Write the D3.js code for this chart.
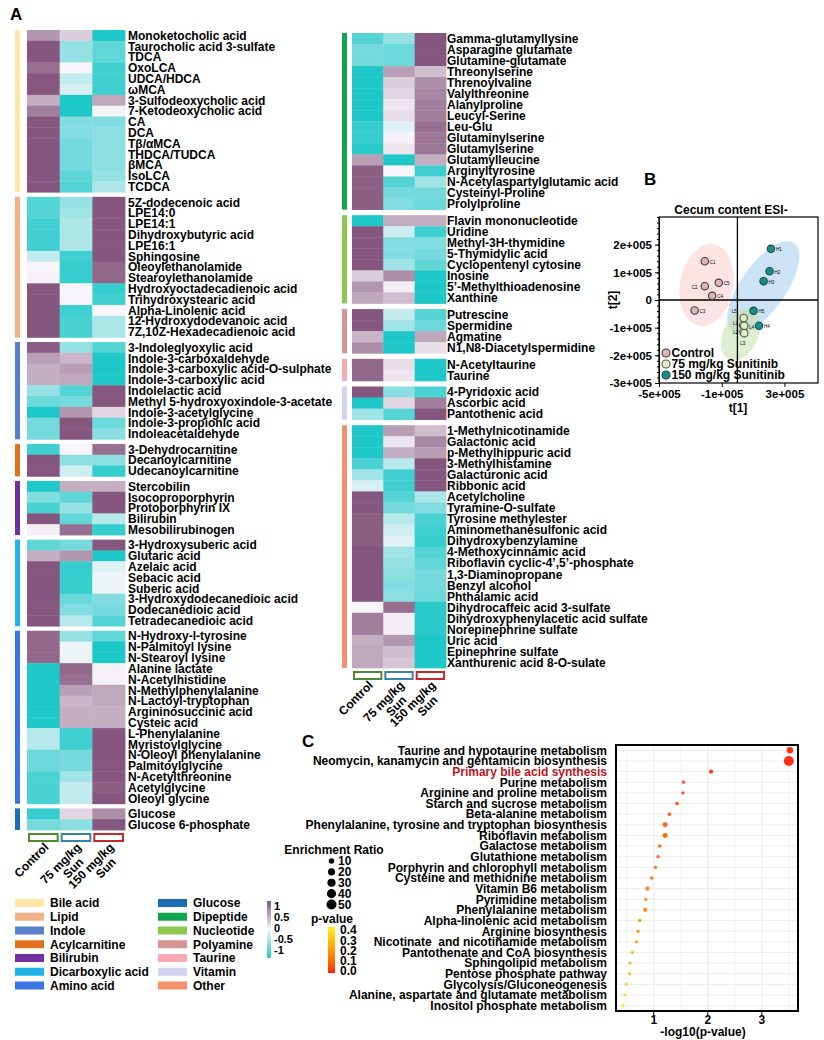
<!DOCTYPE html>
<html><head><meta charset="utf-8">
<script src="https://cdn.jsdelivr.net/npm/d3@7"></script>
<style>
body{margin:0;background:#fff}
text{font-family:"Liberation Sans",Arial,Helvetica,sans-serif;font-weight:bold;fill:#000}
</style>
</head><body><svg id="c" width="824" height="1040" xmlns="http://www.w3.org/2000/svg"></svg>
<script>
// ---------------- DATA ----------------
const groups = ["Control","75 mg/kg Sun","150 mg/kg Sun"];
const groupLabels = [["Control"],["75 mg/kg","Sun"],["150 mg/kg","Sun"]];
const groupColors = ["#4f8a30","#3a82aa","#c42a2a"];

const classNames = ["Bile acid","Lipid","Indole","Acylcarnitine","Bilirubin","Dicarboxylic acid","Amino acid","Glucose","Dipeptide","Nucleotide","Polyamine","Taurine","Vitamin","Other"];
const classColors = ["#fde7a6","#f3b186","#5a7fca","#e2711d","#7030a0","#22b4e6","#3b74e6","#1b6db4","#10a54c","#8dc94f","#d49494","#f8a9b1","#d3d4f0","#f2916b"];

// [name, Control, 75 mg/kg, 150 mg/kg] (row z-score, -1..1)
const bileAcid = [
["Monoketocholic acid",0.6,0.25,-1],
["Taurocholic acid 3-sulfate",1,-0.45,-0.7],
["TDCA",1,-0.45,-0.7],
["OxoLCA",0.85,0,-0.85],
["UDCA/HDCA",1,-0.25,-0.85],
["ωMCA",1,-0.15,-0.85],
["3-Sulfodeoxycholic acid",0.45,-1,0.5],
["7-Ketodeoxycholic acid",0.75,-1,0.02],
["CA",1,-0.55,-0.55],
["DCA",1,-0.55,-0.5],
["Tβ/αMCA",1,-0.6,-0.5],
["THDCA/TUDCA",1,-0.6,-0.5],
["βMCA",1,-0.6,-0.5],
["IsoLCA",1,-0.7,-0.45],
["TCDCA",1,-0.75,-0.35]];
const lipid = [
["5Z-dodecenoic acid",-0.75,-0.45,1],
["LPE14:0",-0.75,-0.4,1],
["LPE14:1",-0.85,-0.35,1],
["Dihydroxybutyric acid",-0.85,-0.35,1],
["LPE16:1",-0.85,-0.35,1],
["Sphingosine",-0.25,-0.85,1],
["Oleoylethanolamide",0,-0.9,0.9],
["Stearoylethanolamide",0.03,-0.9,0.9],
["Hydroxyoctadecadienoic acid",1,0,-0.9],
["Trihydroxystearic acid",1,0,-0.85],
["Alpha-Linolenic acid",1,-0.85,0],
["12-Hydroxydodevanoic acid",1,-0.8,-0.35],
["7Z,10Z-Hexadecadienoic acid",1,-0.8,-0.35]];
const indole = [
["3-Indoleglyoxylic acid",0.95,-0.45,-0.75],
["Indole-3-carboxaldehyde",0.55,0.4,-1],
["Indole-3-carboxylic acid-O-sulphate",0.45,0.55,-1],
["Indole-3-carboxylic acid",0.45,0.5,-1],
["Indolelactic acid",-0.45,-0.75,1],
["Methyl 5-hydroxyoxindole-3-acetate",-0.65,-0.6,1],
["Indole-3-acetylglycine",-1,0.6,0.2],
["Indole-3-propionic acid",-0.6,1,-0.65],
["Indoleacetaldehyde",-0.6,1,-0.5]];
const acylcarnitine = [
["3-Dehydrocarnitine",-0.85,0,0.85],
["Decanoylcarnitine",1,-0.5,-0.5],
["Udecanoylcarnitine",1,-0.2,-0.9]];
const bilirubin = [
["Stercobilin",-1,0.45,0.45],
["Isocoproporphyrin",-0.55,-0.7,1],
["Protoporphyrin IX",-0.8,-0.45,1],
["Bilirubin",1,-0.7,-0.3],
["Mesobilirubinogen",0.05,0.85,-0.9]];
const dicarboxylic = [
["3-Hydroxysuberic acid",-0.7,-0.6,1],
["Glutaric acid",0.45,0.6,-1],
["Azelaic acid",1,-0.9,-0.12],
["Sebacic acid",1,-0.9,-0.05],
["Suberic acid",1,-0.9,-0.05],
["3-Hydroxydodecanedioic acid",1,-0.65,-0.55],
["Dodecanedioic acid",1,-0.55,-0.6],
["Tetradecanedioic acid",1,-0.3,-0.75]];
const aminoAcid = [
["N-Hydroxy-l-tyrosine",0.9,-0.45,-0.7],
["N-Palmitoyl lysine",0.9,-0.05,-1],
["N-Stearoyl lysine",0.9,-0.05,-1],
["Alanine lactate",-1,0.9,0.03],
["N-Acetylhistidine",-1,0.85,0.03],
["N-Methylphenylalanine",-1,0.55,0.5],
["N-Lactoyl-tryptophan",-1,0.4,0.5],
["Argininosuccinic acid",-1,0.45,0.45],
["Cysteic acid",-1,0.45,0.45],
["L-Phenylalanine",-0.3,-0.85,1],
["Myristoylglycine",-0.3,-0.85,1],
["N-Oleoyl phenylalanine",-0.65,-0.6,1],
["Palmitoylglycine",-0.65,-0.6,1],
["N-Acetylthreonine",-0.8,-0.4,1],
["Acetylglycine",-0.8,-0.25,0.95],
["Oleoyl glycine",-0.8,-0.25,1]];
const glucose = [
["Glucose",-0.9,0.2,0.65],
["Glucose 6-phosphate",-0.6,-0.5,1]];
const dipeptide = [
["Gamma-glutamyllysine",-0.75,-0.45,1],
["Asparagine glutamate",-0.6,-0.65,1],
["Glutamine-glutamate",-0.6,-0.65,1],
["Threonylserine",-1,0.55,0.35],
["Threnoylvaline",-1,0.25,0.65],
["Valylthreonine",-1,0.2,0.7],
["Alanylproline",-1,0.1,0.75],
["Leucyl-Serine",-1,0.15,0.75],
["Leu-Glu",-0.9,-0.1,0.85],
["Glutaminylserine",-0.9,0.03,0.8],
["Glutamylserine",-0.95,0.1,0.8],
["Glutamylleucine",0.55,-1,0.45],
["Arginyltyrosine",0.95,0,-0.85],
["N-Acetylaspartylglutamic acid",0.95,-0.75,-0.4],
["Cysteinyl-Proline",0.95,-0.6,-0.6],
["Prolylproline",0.95,-0.55,-0.65]];
const nucleotide = [
["Flavin mononucleotide",-1,0.45,0.45],
["Uridine",1,-0.2,-0.85],
["Methyl-3H-thymidine",1,-0.55,-0.55],
["5-Thymidylic acid",1,-0.55,-0.6],
["Cyclopentenyl cytosine",1,-0.4,-0.7],
["Inosine",0.25,0.65,-1],
["5’-Methylthioadenosine",0.6,0.05,-1],
["Xanthine",0.5,0.35,-1]];
const polyamine = [
["Putrescine",1,-0.25,-0.75],
["Spermidine",1,-0.4,-0.65],
["Agmatine",0.4,-1,0.5],
["N1,N8-Diacetylspermidine",0.65,-1,0.15]];
const taurine = [
["N-Acetyltaurine",0.9,0.15,-1],
["Taurine",0.9,0.1,-1]];
const vitamin = [
["4-Pyridoxic acid",1,-0.5,-0.8],
["Ascorbic acid",-1,0.2,0.75],
["Pantothenic acid",-0.4,-0.75,1]];
const other = [
["1-Methylnicotinamide",-1,0.55,0.35],
["Galactonic acid",-1,0.1,0.7],
["p-Methylhippuric acid",-1,0.45,0.55],
["3-Methylhistamine",-0.8,-0.3,1],
["Galacturonic acid",-0.4,-0.85,1],
["Ribbonic acid",-0.15,-0.85,1],
["Acetylcholine",1,-0.75,-0.35],
["Tyramine-O-sulfate",1,-0.6,-0.55],
["Tyrosine methylester",0.95,-0.3,-0.8],
["Aminomethanesulfonic acid",0.95,-0.2,-0.85],
["Dihydroxybenzylamine",0.95,-0.1,-0.9],
["4-Methoxycinnamic acid",1,-0.4,-0.75],
["Riboflavin cyclic-4’,5’-phosphate",1,-0.45,-0.7],
["1,3-Diaminopropane",1,-0.5,-0.6],
["Benzyl alcohol",1,-0.55,-0.6],
["Phthalamic acid",1,-0.5,-0.65],
["Dihydrocaffeic acid 3-sulfate",0,0.85,-0.95],
["Dihydroxyphenylacetic acid sulfate",0.75,0.05,-0.95],
["Norepinephrine sulfate",0.75,0.05,-0.95],
["Uric acid",0.45,0.6,-1],
["Epinephrine sulfate",0.5,0.35,-1],
["Xanthurenic acid 8-O-sulate",0.5,0.3,-1]];

const leftPanel = [["Bile acid",bileAcid],["Lipid",lipid],["Indole",indole],["Acylcarnitine",acylcarnitine],["Bilirubin",bilirubin],["Dicarboxylic acid",dicarboxylic],["Amino acid",aminoAcid],["Glucose",glucose]];
const rightPanel = [["Dipeptide",dipeptide],["Nucleotide",nucleotide],["Polyamine",polyamine],["Taurine",taurine],["Vitamin",vitamin],["Other",other]];

const heatTicks = [1,0.5,0,-0.5,-1];

// PCA scores
const pcaNames = ["C1","C2","C3","C4","C5","L1","L2","L3","L4","L5","H1","H2","H3","H4","H5"];
const pcaGroup = ["Control","Control","Control","Control","Control","75","75","75","75","75","150","150","150","150","150"];
const pcaT1 = [-2.08e5,-2.08e5,-2.73e5,-1.61e5,-1.19e5, 0.36e5,0.38e5,0.44e5,0.44e5,0.40e5, 2.14e5,2.05e5,1.67e5,1.38e5,1.03e5];
const pcaT2 = [1.40e5,0.50e5,-0.38e5,0.15e5,0.62e5, -0.90e5,-1.15e5,-1.20e5,-0.93e5,-0.65e5, 1.85e5,1.04e5,0.68e5,-0.93e5,-0.39e5];
const pcaLegend = ["Control","75 mg/kg Sunitinib","150 mg/kg Sunitinib"];
const pcaXTicks = [-5e5,-1e5,3e5];
const pcaYTicks = [-3e5,-2e5,-1e5,0,1e5,2e5];
// confidence ellipses: [group, centre t1, centre t2, semi-axis t1, semi-axis t2, tilt deg]
const pcaEllipses = [["Control",-1.97e5,0.54e5,1.7e5,1.5e5,10],["150",1.65e5,0.46e5,1.45e5,1.95e5,35],["75",0.2e5,-1.25e5,1.1e5,1.0e5,25]];

// Pathway enrichment
const pathways = ["Taurine and hypotaurine metabolism","Neomycin, kanamycin and gentamicin biosynthesis","Primary bile acid synthesis","Purine metabolism","Arginine and proline metabolism","Starch and sucrose metabolism","Beta-alanine metabolism","Phenylalanine, tyrosine and tryptophan biosynthesis","Riboflavin metabolism","Galactose metabolism","Glutathione metabolism","Porphyrin and chlorophyll metabolism","Cysteine and methionine metabolism","Vitamin B6 metabolism","Pyrimidine metabolism","Phenylalanine metabolism","Alpha-linolenic acid metabolism","Arginine biosynthesis","Nicotinate  and nicotinamide metabolism","Pantothenate and CoA biosynthesis","Sphingolipid metabolism","Pentose phosphate pathway","Glycolysis/Gluconeogenesis","Alanine, aspartate and glutamate metabolism","Inositol phosphate metabolism"];
const negLogP = [3.52,3.50,2.06,1.55,1.54,1.43,1.29,1.21,1.21,1.11,1.08,1.03,0.96,0.88,0.85,0.84,0.74,0.71,0.68,0.60,0.56,0.55,0.49,0.46,0.43];
const enrichment = [16,50,4,1.2,1.2,2,1.8,7,7,1.8,1.8,1.5,1.5,3.5,1.2,3.5,1.5,1.5,1.5,1.2,1.2,1.2,1,1,1];
const erLegend = [10,20,30,40,50];
const pTicks = [0.4,0.3,0.2,0.1,0.0];
const pathXTicks = [1,2,3];

// ---------------- DRAW ----------------
const svg = d3.select("#c");
const heatColor = d3.scaleLinear().domain([-1,0,1]).range(["#1fc8c8","#f8f6fa","#85577e"]);
const classColor = d3.scaleOrdinal().domain(classNames).range(classColors);

svg.append("text").attr("x",10).attr("y",20).attr("font-size",17).text("A");
svg.append("text").attr("x",644).attr("y",185).attr("font-size",17).text("B");
svg.append("text").attr("x",302).attr("y",747).attr("font-size",17).text("C");

function drawHeat(panel, xr, yr, gap, barX, labelX) {
  const g = svg.append("g");
  const nRows = d3.sum(panel, p => p[1].length);
  const rowH = (yr[1]-yr[0]-gap*(panel.length-1))/nRows;
  const x = d3.scaleBand().domain(groups).range(xr);
  let y0 = yr[0];
  panel.forEach(([cls, rows]) => {
    const h = rows.length*rowH;
    const y = d3.scaleBand().domain(rows.map(r=>r[0])).range([y0, y0+h]);
    g.append("rect").attr("x",barX).attr("y",y0).attr("width",5).attr("height",h).attr("fill",classColor(cls));
    rows.forEach(r => {
      groups.forEach((grp,j) => {
        g.append("rect").attr("x",x(grp)).attr("y",y(r[0]))
          .attr("width",x.bandwidth()+0.4).attr("height",y.bandwidth()+0.4)
          .attr("fill",heatColor(r[j+1]));
      });
      g.append("text").attr("x",labelX).attr("y",y(r[0])+y.bandwidth()/2).attr("dy","0.36em")
        .attr("font-size",12).text(r[0]);
    });
    y0 += h + gap;
  });
  const by = yr[1]+4;
  groups.forEach((grp,j) => {
    g.append("rect").attr("x",x(grp)+2).attr("y",by).attr("width",x.bandwidth()-4).attr("height",7)
      .attr("fill","#fff").attr("stroke",groupColors[j]).attr("stroke-width",2);
    const cx = x(grp)+x.bandwidth()/2;
    const t = g.append("text").attr("transform",`translate(${cx+6},${by+14}) rotate(-45)`)
      .attr("text-anchor","end").attr("font-size",12);
    groupLabels[j].forEach((line,k) => t.append("tspan").attr("x",k? -9:0).attr("dy",k? "1em":0).text(line));
  });
}
drawHeat(leftPanel,[27,125],[30,830],4.6,15,128);
drawHeat(rightPanel,[352,446],[33,668],5.6,342,447);

// class legend
const legCol1 = classNames.slice(0,7), legCol2 = classNames.slice(7);
const legY = d3.scalePoint().domain(d3.range(7)).range([903,985.5]);
[[legCol1,15,50],[legCol2,158,193]].forEach(([names,sx,tx]) => {
  names.forEach((n,i) => {
    svg.append("rect").attr("x",sx).attr("y",legY(i)-4).attr("width",29).attr("height",8).attr("fill",classColor(n));
    svg.append("text").attr("x",tx).attr("y",legY(i)).attr("dy","0.36em").attr("font-size",12).text(n);
  });
});
// heat colour bar
const defs = svg.append("defs");
const hg = defs.append("linearGradient").attr("id","hg").attr("x1",0).attr("y1",0).attr("x2",0).attr("y2",1);
[1,0.5,0,-0.5,-1].forEach((v,i)=>hg.append("stop").attr("offset",i/4).attr("stop-color",heatColor(v)));
svg.append("rect").attr("x",267).attr("y",901).attr("width",4).attr("height",57).attr("fill","url(#hg)");
const hs = d3.scaleLinear().domain([1,-1]).range([906,950]);
heatTicks.forEach(v => svg.append("text").attr("x",274).attr("y",hs(v)).attr("dy","0.36em").attr("font-size",11).text(v));

// ---------------- PCA ----------------
const px = d3.scaleLinear().domain([-5e5,5.14e5]).range([659,818]);
const py = d3.scaleLinear().domain([-3e5,3e5]).range([383,217]);
const pFill = {"Control":"#d8b6ba","75":"#e0edcb","150":"#1a8c8c"};
const pStroke = {"Control":"#4a3438","75":"#4e5e3c","150":"#17494a"};
const eFill = {"Control":"rgba(248,196,196,0.45)","75":"rgba(196,222,170,0.55)","150":"rgba(160,204,236,0.55)"};
defs.append("clipPath").attr("id","pc").append("rect").attr("x",659).attr("y",217).attr("width",159).attr("height",166);
const pg = svg.append("g");
pg.append("text").attr("x",731).attr("y",214).attr("text-anchor","middle").attr("font-size",12).text("Cecum content ESI-");
const eg = pg.append("g").attr("clip-path","url(#pc)");
pcaEllipses.forEach(([grp,c1,c2,s1,s2,a]) => {
  eg.append("ellipse").attr("transform",`translate(${px(c1)},${py(c2)}) rotate(${a})`)
    .attr("rx",px(c1+s1)-px(c1)).attr("ry",py(c2)-py(c2+s2)).attr("fill",eFill[grp]);
});
pg.append("line").attr("x1",px(0)).attr("x2",px(0)).attr("y1",217).attr("y2",383).attr("stroke","#000").attr("stroke-width",1.3);
pg.append("line").attr("x1",659).attr("x2",818).attr("y1",py(0)).attr("y2",py(0)).attr("stroke","#000").attr("stroke-width",1.3);
const labOff = {"L1":[-10,-1],"L2":[-10,1],"L3":[-4,10],"L4":[5,2],"L5":[-12,-7],"C2":[-13,1]};
pcaNames.forEach((n,i) => {
  pg.append("circle").attr("cx",px(pcaT1[i])).attr("cy",py(pcaT2[i])).attr("r",3.7)
    .attr("fill",pFill[pcaGroup[i]]).attr("stroke",pStroke[pcaGroup[i]]).attr("stroke-width",1.1);
});
pcaNames.forEach((n,i) => {
  const o = labOff[n] || [5,1];
  pg.append("text").attr("x",px(pcaT1[i])+o[0]).attr("y",py(pcaT2[i])+o[1]).attr("dy","0.35em")
    .attr("font-size",4.5).style("font-weight","normal").attr("fill","#777").text(n);
});
pg.append("rect").attr("x",659).attr("y",217).attr("width",159).attr("height",166).attr("fill","none").attr("stroke","#000").attr("stroke-width",1.2);
const yAx = pg.append("g").attr("transform","translate(659,0)")
  .call(d3.axisLeft(py).tickValues(pcaYTicks).tickSize(4).tickFormat(d => d===0?"0":(d/1e5)+"e+005"));
pg.append("g").attr("transform","translate(659,0)").call(d3.axisLeft(py).ticks(30).tickSize(2).tickFormat(""));
const xAx = pg.append("g").attr("transform","translate(0,383)")
  .call(d3.axisBottom(px).tickValues(pcaXTicks).tickSize(4).tickFormat(d => (d/1e5)+"e+005"));
[yAx,xAx].forEach(a => { a.selectAll("text").attr("font-size",11.5).attr("fill","#000").style("font-family",'"Liberation Sans",Arial,sans-serif').style("font-weight","bold"); a.select(".domain").remove(); });
pg.selectAll(".tick line").attr("stroke","#000");
pg.select("g:last-of-type .domain");
pg.append("text").attr("x",738).attr("y",412).attr("text-anchor","middle").attr("font-size",12).text("t[1]");
pg.append("text").attr("transform","translate(617,300) rotate(-90)").attr("text-anchor","middle").attr("font-size",12).text("t[2]");
const lgY = d3.scalePoint().domain(pcaLegend).range([353,375]);
["Control","75","150"].forEach((grp,i) => {
  pg.append("circle").attr("cx",666).attr("cy",lgY(pcaLegend[i])).attr("r",4).attr("fill",pFill[grp]).attr("stroke",pStroke[grp]).attr("stroke-width",1.1);
  pg.append("text").attr("x",671.5).attr("y",lgY(pcaLegend[i])).attr("dy","0.36em").attr("font-size",12).text(pcaLegend[i]);
});

// ---------------- Pathway bubble ----------------
const cx = d3.scaleLinear().domain([0.3,3.67]).range([616,798]);
const cy = d3.scaleBand().domain(pathways).range([745,1011]);
const rS = d3.scaleSqrt().domain([0,50]).range([1,5]);
const pCol = d3.scaleLinear().domain([0,0.4]).range(["#ff1a00","#ffee22"]).interpolate(d3.interpolateLab);
const cg = svg.append("g");
d3.range(0.5,3.6,0.5).forEach(v => cg.append("line").attr("x1",cx(v)).attr("x2",cx(v)).attr("y1",745).attr("y2",1011)
  .attr("stroke", Number.isInteger(v)?"#e4e4e4":"#f0f0f0").attr("stroke-width",0.8));
pathways.forEach(p => cg.append("line").attr("x1",616).attr("x2",798).attr("y1",cy(p)+cy.bandwidth()/2).attr("y2",cy(p)+cy.bandwidth()/2)
  .attr("stroke","#e8e8e8").attr("stroke-width",0.8));
pathways.forEach((p,i) => {
  cg.append("circle").attr("cx",cx(negLogP[i])).attr("cy",cy(p)+cy.bandwidth()/2).attr("r",rS(enrichment[i]))
    .attr("fill",pCol(Math.pow(10,-negLogP[i]))).attr("opacity",0.9);
  cg.append("text").attr("x",607).attr("y",cy(p)+cy.bandwidth()/2).attr("dy","0.36em").attr("text-anchor","end")
    .attr("font-size",12).style("white-space","pre").attr("fill", p==="Primary bile acid synthesis"?"#c0141c":"#000")
    .style("fill", p==="Primary bile acid synthesis"?"#c0141c":"#000").text(p);
});
cg.append("rect").attr("x",616).attr("y",745).attr("width",182).attr("height",266).attr("fill","none").attr("stroke","#000").attr("stroke-width",2);
pathXTicks.forEach(v => {
  cg.append("line").attr("x1",cx(v)).attr("x2",cx(v)).attr("y1",1012).attr("y2",1015).attr("stroke","#000");
  cg.append("text").attr("x",cx(v)).attr("y",1024).attr("text-anchor","middle").attr("font-size",12).text(v);
});
cg.append("text").attr("x",703).attr("y",1036).attr("text-anchor","middle").attr("font-size",12).text("-log10(p-value)");

// size legend
cg.append("text").attr("x",334).attr("y",854).attr("text-anchor","middle").attr("font-size",12).text("Enrichment Ratio");
const erY = d3.scalePoint().domain(erLegend).range([861,904.5]);
erLegend.forEach(v => {
  cg.append("circle").attr("cx",331.5).attr("cy",erY(v)).attr("r",rS(v)).attr("fill","#000");
  cg.append("text").attr("x",338).attr("y",erY(v)).attr("dy","0.36em").attr("font-size",12).text(v);
});
cg.append("text").attr("x",332).attr("y",923).attr("text-anchor","middle").attr("font-size",12).text("p-value");
const pgr = defs.append("linearGradient").attr("id","pg").attr("x1",0).attr("y1",0).attr("x2",0).attr("y2",1);
d3.range(0,1.01,0.1).forEach(t => pgr.append("stop").attr("offset",t).attr("stop-color",pCol(0.4*(1-t))));
cg.append("rect").attr("x",328).attr("y",927).attr("width",7).attr("height",46).attr("fill","url(#pg)");
const pS = d3.scaleLinear().domain([0.4,0]).range([930,971]);
pTicks.forEach(v => cg.append("text").attr("x",340).attr("y",pS(v)).attr("dy","0.36em").attr("font-size",12).text(v.toFixed(1)));
</script></body></html>
